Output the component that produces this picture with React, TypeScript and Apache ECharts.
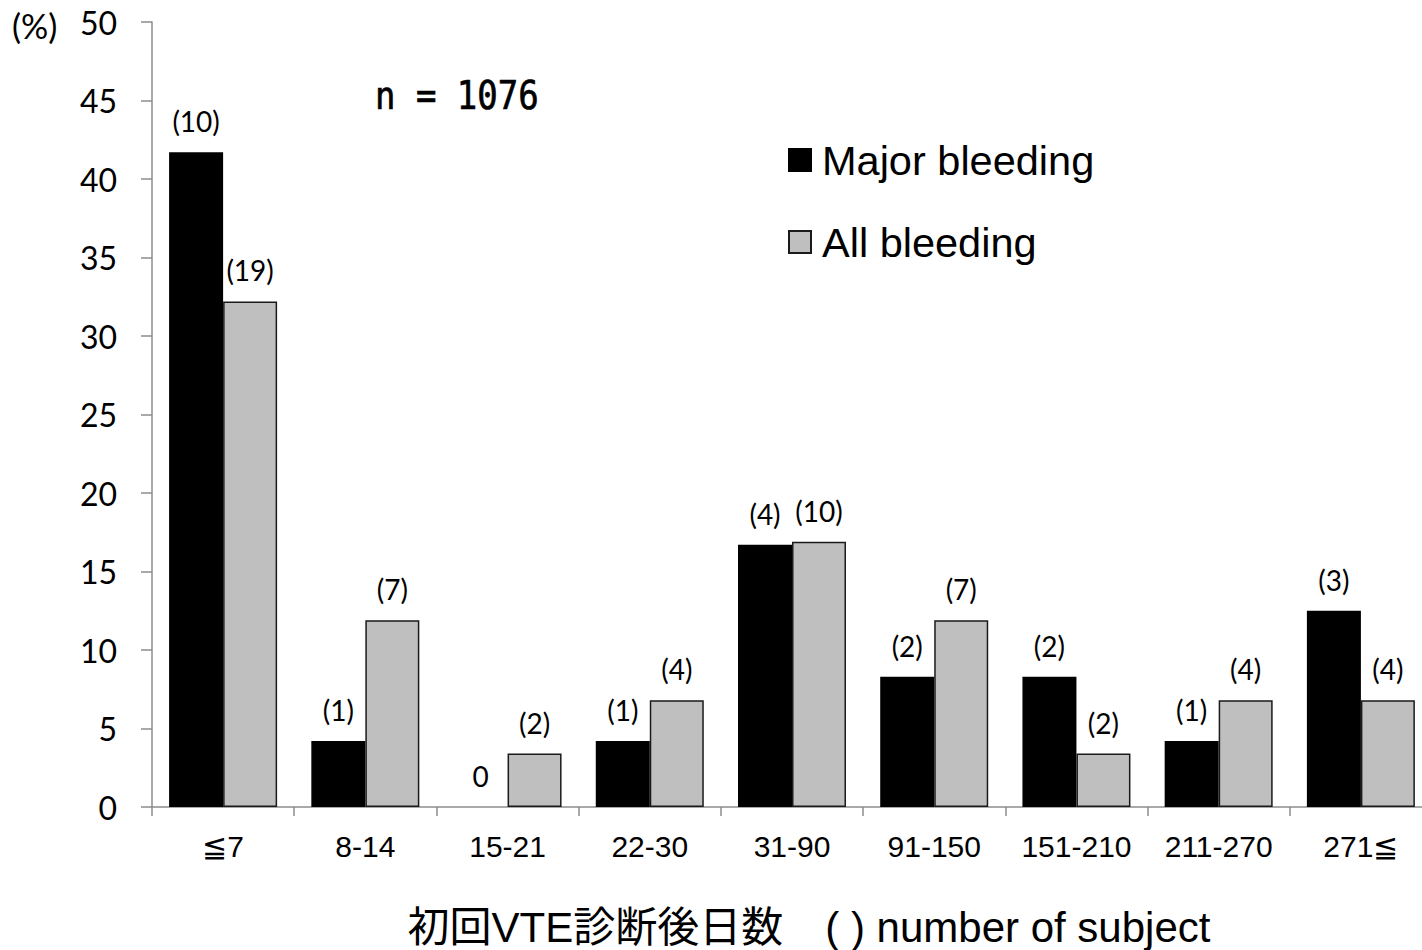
import { useEffect, useRef } from "react";
import * as echarts from "echarts";

// Days since first VTE diagnosis
const categories = ["≦7", "8-14", "15-21", "22-30", "31-90", "91-150", "151-210", "211-270", "271≦"];
// Share of subjects (%) per period
const majorPct = [41.7, 4.2, 0, 4.2, 16.7, 8.3, 8.3, 4.2, 12.5];
const allPct = [32.2, 11.9, 3.4, 6.8, 16.9, 11.9, 3.4, 6.8, 6.8];
// Number of subjects per period
const majorCounts = [10, 1, 0, 1, 4, 2, 2, 1, 3];
const allCounts = [19, 7, 2, 4, 10, 7, 2, 4, 4];

const yMin = 0;
const yMax = 50;
const yStep = 5;

const LABEL_FONT = "Lato, 'Open Sans', sans-serif";
const ARIAL = "'Liberation Sans', Arial, sans-serif";

const countLabel = (counts: number[]) => (p: any) => {
  const c = counts[p.dataIndex];
  return c === 0 ? "0" : `(${c})`;
};

// zero-height bars get no outline so only their value label remains
const barData = (values: number[]) =>
  values.map((v) => (v === 0 ? { value: v, itemStyle: { borderWidth: 0 } } : v));

export default function App() {
  const ref = useRef<HTMLDivElement>(null);

  useEffect(() => {
    if (!ref.current) return;
    const chart = echarts.init(ref.current, undefined, { renderer: "svg" });
    const barLabel = (counts: number[]) => ({
      show: true,
      position: "top" as const,
      distance: 17,
      color: "#000",
      fontFamily: LABEL_FONT,
      fontSize: 28,
      formatter: countLabel(counts),
    });
    chart.setOption({
      animation: false,
      backgroundColor: "#fff",
      grid: { left: 152, right: 0, top: 22, bottom: 143, containLabel: false },
      legend: {
        orient: "vertical",
        left: 783,
        top: 134,
        itemWidth: 22,
        itemHeight: 22,
        itemGap: 40,
        icon: "rect",
        textStyle: { fontFamily: ARIAL, fontSize: 41.5, color: "#000", padding: [0, 0, 0, 6] },
        data: ["Major bleeding", "All bleeding"],
      },
      xAxis: {
        type: "category",
        data: categories,
        boundaryGap: true,
        axisLine: { show: true, lineStyle: { color: "#8c8c8c", width: 1.5 } },
        axisTick: { show: true, length: 9, alignWithLabel: false, lineStyle: { color: "#8c8c8c", width: 1.5 } },
        axisLabel: { color: "#000", fontFamily: ARIAL, fontSize: 30, margin: 24, interval: 0 },
      },
      yAxis: {
        type: "value",
        min: yMin,
        max: yMax,
        interval: yStep,
        axisLine: { show: true, lineStyle: { color: "#8c8c8c", width: 1.5 } },
        axisTick: { show: true, length: 11, lineStyle: { color: "#8c8c8c", width: 1.5 } },
        splitLine: { show: false },
        axisLabel: { color: "#000", fontFamily: LABEL_FONT, fontSize: 32, margin: 35 },
      },
      series: [
        {
          name: "Major bleeding",
          type: "bar",
          data: barData(majorPct),
          barWidth: 54,
          barGap: "0%",
          itemStyle: { color: "#000", borderColor: "#000", borderWidth: 1.5 },
          label: barLabel(majorCounts),
        },
        {
          name: "All bleeding",
          type: "bar",
          data: barData(allPct),
          barWidth: 54,
          barGap: "0%",
          itemStyle: { color: "#bfbfbf", borderColor: "#1a1a1a", borderWidth: 1.5 },
          label: barLabel(allCounts),
        },
      ],
      graphic: [
        {
          type: "text",
          left: 12,
          top: 8,
          style: { text: "(%)", font: `34px ${LABEL_FONT}`, fill: "#000" },
        },
        {
          type: "text",
          x: 375,
          y: 96,
          scaleY: 1.15,
          style: {
            text: "n = 1076",
            font: `34px 'DejaVu Sans Mono', monospace`,
            fill: "#000",
            stroke: "#000",
            lineWidth: 0.6,
            verticalAlign: "middle",
          },
        },
        {
          type: "text",
          x: 809,
          y: 927,
          style: {
            text: "初回VTE診断後日数　( ) number of subject",
            font: `42px 'Liberation Sans', 'Noto Sans CJK JP', sans-serif`,
            fill: "#000",
            align: "center",
            verticalAlign: "middle",
          },
        },
      ],
    });
    return () => chart.dispose();
  }, []);

  return (
    <div style={{ position: "absolute", left: 0, top: 0, width: 1422, height: 950, overflow: "hidden" }}>
      <div ref={ref} style={{ width: 1432, height: 950 }} />
    </div>
  );
}
